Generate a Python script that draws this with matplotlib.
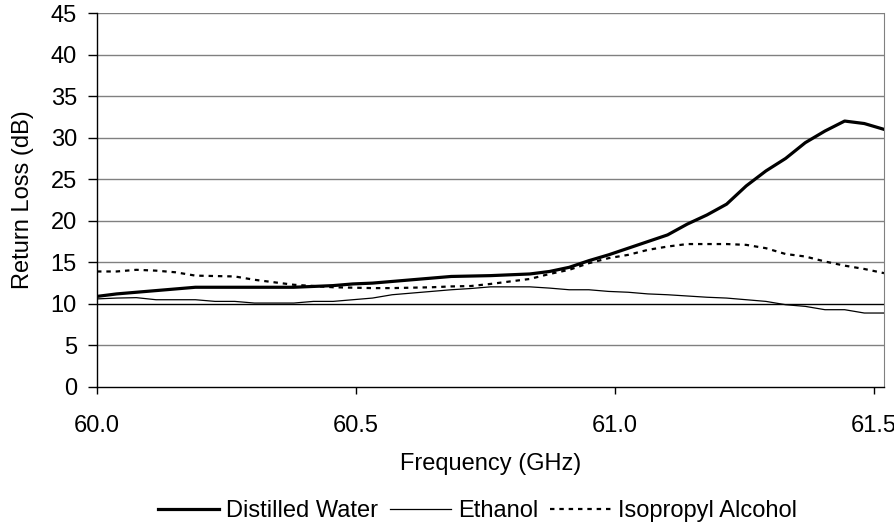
import matplotlib
matplotlib.use("Agg")
import matplotlib.pyplot as plt

plt.rcParams['font.family'] = ['Liberation Sans', 'DejaVu Sans']

# frequency points (GHz)
freq = [60.000, 60.038, 60.076, 60.114, 60.152, 60.190, 60.228, 60.266, 60.304, 60.342,
        60.380, 60.418, 60.456, 60.494, 60.532, 60.570, 60.608, 60.646, 60.684, 60.722,
        60.760, 60.798, 60.836, 60.874, 60.912, 60.950, 60.988, 61.026, 61.064, 61.102,
        61.140, 61.178, 61.216, 61.254, 61.292, 61.330, 61.368, 61.406, 61.444, 61.482,
        61.520]

water = [10.9, 11.2, 11.4, 11.6, 11.8, 12.0, 12.0, 12.0, 12.0, 12.0,
         12.0, 12.1, 12.2, 12.4, 12.5, 12.7, 12.9, 13.1, 13.3, 13.35,
         13.4, 13.5, 13.6, 13.9, 14.4, 15.2, 15.9, 16.7, 17.5, 18.3,
         19.6, 20.7, 22.0, 24.2, 26.0, 27.5, 29.4, 30.8, 32.0, 31.7,
         31.0]

ethanol = [10.6, 10.7, 10.75, 10.5, 10.5, 10.5, 10.3, 10.3, 10.1, 10.1,
           10.1, 10.3, 10.3, 10.5, 10.7, 11.1, 11.3, 11.5, 11.7, 11.85,
           12.05, 12.05, 12.05, 11.9, 11.7, 11.7, 11.5, 11.4, 11.2, 11.1,
           10.95, 10.8, 10.7, 10.5, 10.3, 9.9, 9.7, 9.3, 9.3, 8.9,
           8.9]

isopropyl = [13.9, 13.9, 14.1, 14.0, 13.8, 13.4, 13.35, 13.3, 12.9, 12.6,
             12.3, 12.15, 12.0, 11.95, 11.9, 11.9, 11.95, 12.0, 12.1, 12.15,
             12.4, 12.7, 13.0, 13.6, 14.1, 14.9, 15.5, 15.9, 16.5, 16.9,
             17.2, 17.2, 17.2, 17.1, 16.7, 16.0, 15.7, 15.1, 14.6, 14.2,
             13.7]

xticks = [60.0, 60.5, 61.0, 61.5]
yticks = [0, 5, 10, 15, 20, 25, 30, 35, 40, 45]

FS = 17

fig = plt.figure(figsize=(8.95, 5.31), dpi=100)
ax = fig.add_axes([0.1084, 0.2712, 0.8793, 0.7043])

# horizontal gridlines, the 10 dB line is drawn black
for y in yticks[1:]:
    ax.axhline(y, color='black' if y == 10 else '#808080', lw=1.0, zorder=1)

ax.plot(freq, water, color='black', lw=2.3, label='Distilled Water', zorder=3)
ax.plot(freq, ethanol, color='black', lw=0.9, label='Ethanol', zorder=3)
ax.plot(freq, isopropyl, color='black', lw=1.6, ls=(0, (2, 2.2)),
        label='Isopropyl Alcohol', zorder=3)

ax.set_xlim(60.0, 61.52)
ax.set_ylim(0, 45)
ax.set_xticks(xticks)
ax.set_xticklabels(['%.1f' % t for t in xticks])
ax.set_yticks(yticks)

ax.spines['top'].set_visible(False)
ax.spines['right'].set_color('#808080')
ax.spines['left'].set_linewidth(1.0)
ax.spines['bottom'].set_linewidth(1.0)

ax.tick_params(axis='y', direction='out', length=6.5, width=1.0, pad=8, labelsize=FS)
ax.tick_params(axis='x', direction='out', length=5, width=1.0, pad=15, labelsize=FS)

ax.set_xlabel('Frequency (GHz)', fontsize=FS, labelpad=12)
ax.set_ylabel('Return Loss (dB)', fontsize=FS, labelpad=12)

fig.legend(loc='center', bbox_to_anchor=(0.534, 0.037), ncol=3, frameon=False,
           fontsize=FS, handlelength=2.55, handletextpad=0.33, columnspacing=0.5)

fig.savefig('out.png', dpi=100)
